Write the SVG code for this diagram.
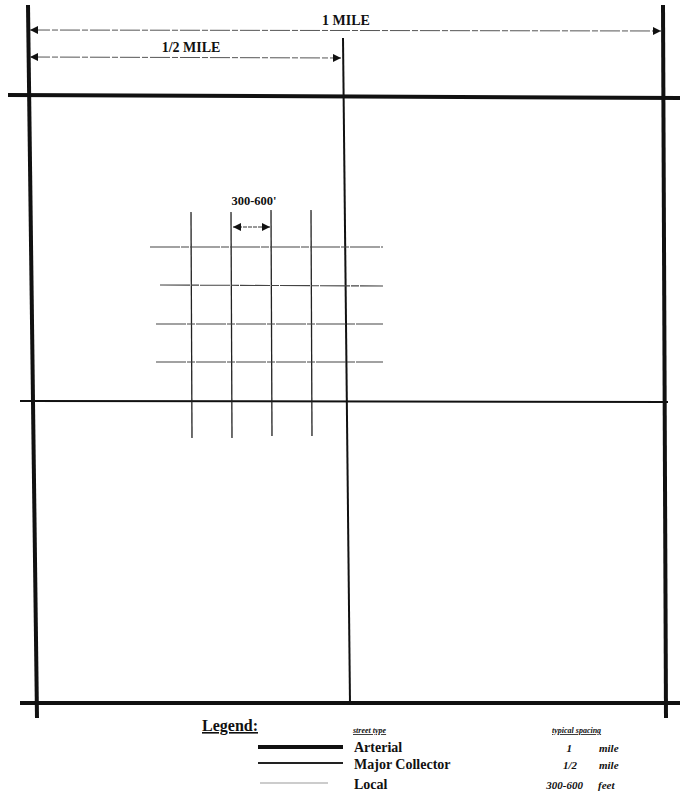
<svg xmlns="http://www.w3.org/2000/svg" width="680" height="801" viewBox="0 0 680 801">
<style>
.art{stroke:#111;stroke-width:4;fill:none;stroke-linecap:butt}
.col{stroke:#111;stroke-width:2;fill:none}
.locv{stroke:#222;stroke-width:1.3;fill:none}
.loch{stroke:#444;stroke-width:1.1;fill:none;stroke-dasharray:30 1 8 1}
.dim{stroke:#555;stroke-width:1;fill:none;stroke-dasharray:20 2 6 2}
.t{font-family:"Liberation Serif","Times New Roman",serif;font-weight:bold;fill:#111}
.it{font-family:"Liberation Serif","Times New Roman",serif;font-weight:bold;font-style:italic;fill:#111}
</style>
<defs>
<marker id="ah" viewBox="0 0 10 10" refX="10" refY="5" markerWidth="8" markerHeight="8" orient="auto-start-reverse" markerUnits="userSpaceOnUse">
<path d="M0,0 L10,5 L0,10 z" fill="#111"/>
</marker>
</defs>
<rect width="680" height="801" fill="#fff"/>
<g id="arterials">
<line class="art" x1="8" y1="95" x2="680" y2="98"/>
<line class="art" x1="20" y1="703" x2="680" y2="703"/>
<line class="art" x1="28" y1="5" x2="37" y2="718"/>
<line class="art" x1="663" y1="5" x2="666" y2="718"/>
</g>
<g id="collectors">
<line class="col" x1="343" y1="38" x2="350" y2="703"/>
<line class="col" x1="20" y1="401" x2="668" y2="402"/>
</g>
<g id="locals">
<line class="locv" x1="191" y1="212" x2="192" y2="438"/>
<line class="locv" x1="231" y1="212" x2="232" y2="438"/>
<line class="locv" x1="271" y1="210" x2="272" y2="436"/>
<line class="locv" x1="311" y1="210" x2="312" y2="436"/>
<line class="loch" x1="150" y1="247" x2="383" y2="247"/>
<line class="loch" x1="160" y1="285" x2="383" y2="286"/>
<line class="loch" x1="156" y1="324" x2="383" y2="324"/>
<line class="loch" x1="156" y1="362" x2="383" y2="362"/>
</g>
<g id="dimensions">
<line class="dim" x1="30" y1="30" x2="661" y2="31" marker-start="url(#ah)" marker-end="url(#ah)"/>
<text class="t" x="346" y="25" font-size="14" text-anchor="middle">1 MILE</text>
<line class="dim" x1="30" y1="57" x2="341" y2="58" marker-start="url(#ah)" marker-end="url(#ah)"/>
<text class="t" x="191" y="52" font-size="14" text-anchor="middle">1/2 MILE</text>
<line x1="233" y1="227" x2="270" y2="227" stroke="#333" stroke-width="1" stroke-dasharray="4 1" marker-start="url(#ah)" marker-end="url(#ah)"/>
<text class="t" x="254" y="205" font-size="12.5" text-anchor="middle">300-600'</text>
</g>
<g id="legend">
<text class="t" x="202" y="731" font-size="16" text-decoration="underline">Legend:</text>
<text class="it" x="353" y="733" font-size="8" text-decoration="underline">street type</text>
<text class="it" x="552" y="733" font-size="8" text-decoration="underline">typical spacing</text>
<line x1="258" y1="747" x2="343" y2="747" stroke="#111" stroke-width="4"/>
<line x1="258" y1="763" x2="343" y2="763" stroke="#222" stroke-width="2"/>
<line x1="260" y1="783" x2="328" y2="783" stroke="#bbb" stroke-width="1.5"/>
<text class="t" x="354" y="752" font-size="14">Arterial</text>
<text class="t" x="354" y="769" font-size="14">Major Collector</text>
<text class="t" x="354" y="789" font-size="14">Local</text>
<text class="it" x="572" y="752" font-size="11" text-anchor="end">1</text>
<text class="it" x="599" y="752" font-size="11">mile</text>
<text class="it" x="577" y="769" font-size="11" text-anchor="end">1/2</text>
<text class="it" x="599" y="769" font-size="11">mile</text>
<text class="it" x="583" y="789" font-size="11" text-anchor="end">300-600</text>
<text class="it" x="598" y="789" font-size="11">feet</text>
</g>
</svg>
